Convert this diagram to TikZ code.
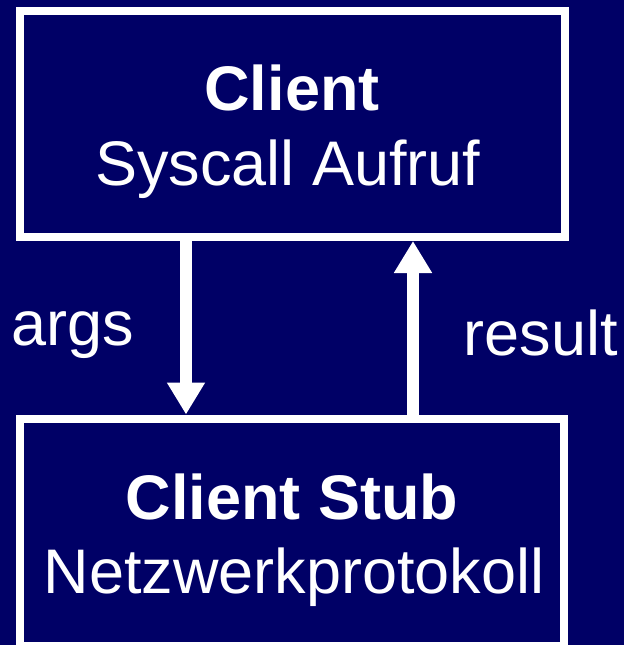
\documentclass[tikz,border=0pt]{standalone}
\usepackage{fontspec}
\setmainfont{Liberation Sans}
\usetikzlibrary{arrows.meta}
\definecolor{navy}{RGB}{0,0,102}
\tikzset{
  box/.style={draw=white, line width=8pt, rectangle, inner sep=0pt},
  label/.style={text=white, inner sep=0pt, anchor=base, font=\fontsize{63}{70}\selectfont},
  title/.style={label, font=\fontsize{63}{70}\selectfont\bfseries},
  flow/.style={draw=white, line width=12pt, -{Triangle[length=32pt,width=36pt]}}
}
\begin{document}
\begin{tikzpicture}[x=1pt, y=-1pt]
  \fill[navy] (0,0) rectangle (624,645);
  \useasboundingbox (0,0) rectangle (624,645);

  % the two layers
  \node[box, minimum width=544.5pt, minimum height=226pt] (client) at (292.25,124) {};
  \node[box, minimum width=544pt, minimum height=227.5pt] (stub) at (292,532.25) {};

  \node[title] (clientname) at (292,110) {Client};
  \node[label] (clientcall) at (288,185) {Syscall Aufruf};
  \node[title] (stubname) at (292,519) {Client Stub};
  \node[label] (stubproto) at (294,593) {Netzwerkprotokoll};

  % call and return paths
  \coordinate (argsx) at (186,0);
  \coordinate (resx) at (413,0);
  \draw[flow] (client.south -| argsx) -- (stub.north -| argsx);
  \draw[flow] (stub.north -| resx) -- (client.south -| resx);

  \node[label] (args) at (72.5,345) {args};
  \node[label] (result) at (541,355) {result};
\end{tikzpicture}
\end{document}
